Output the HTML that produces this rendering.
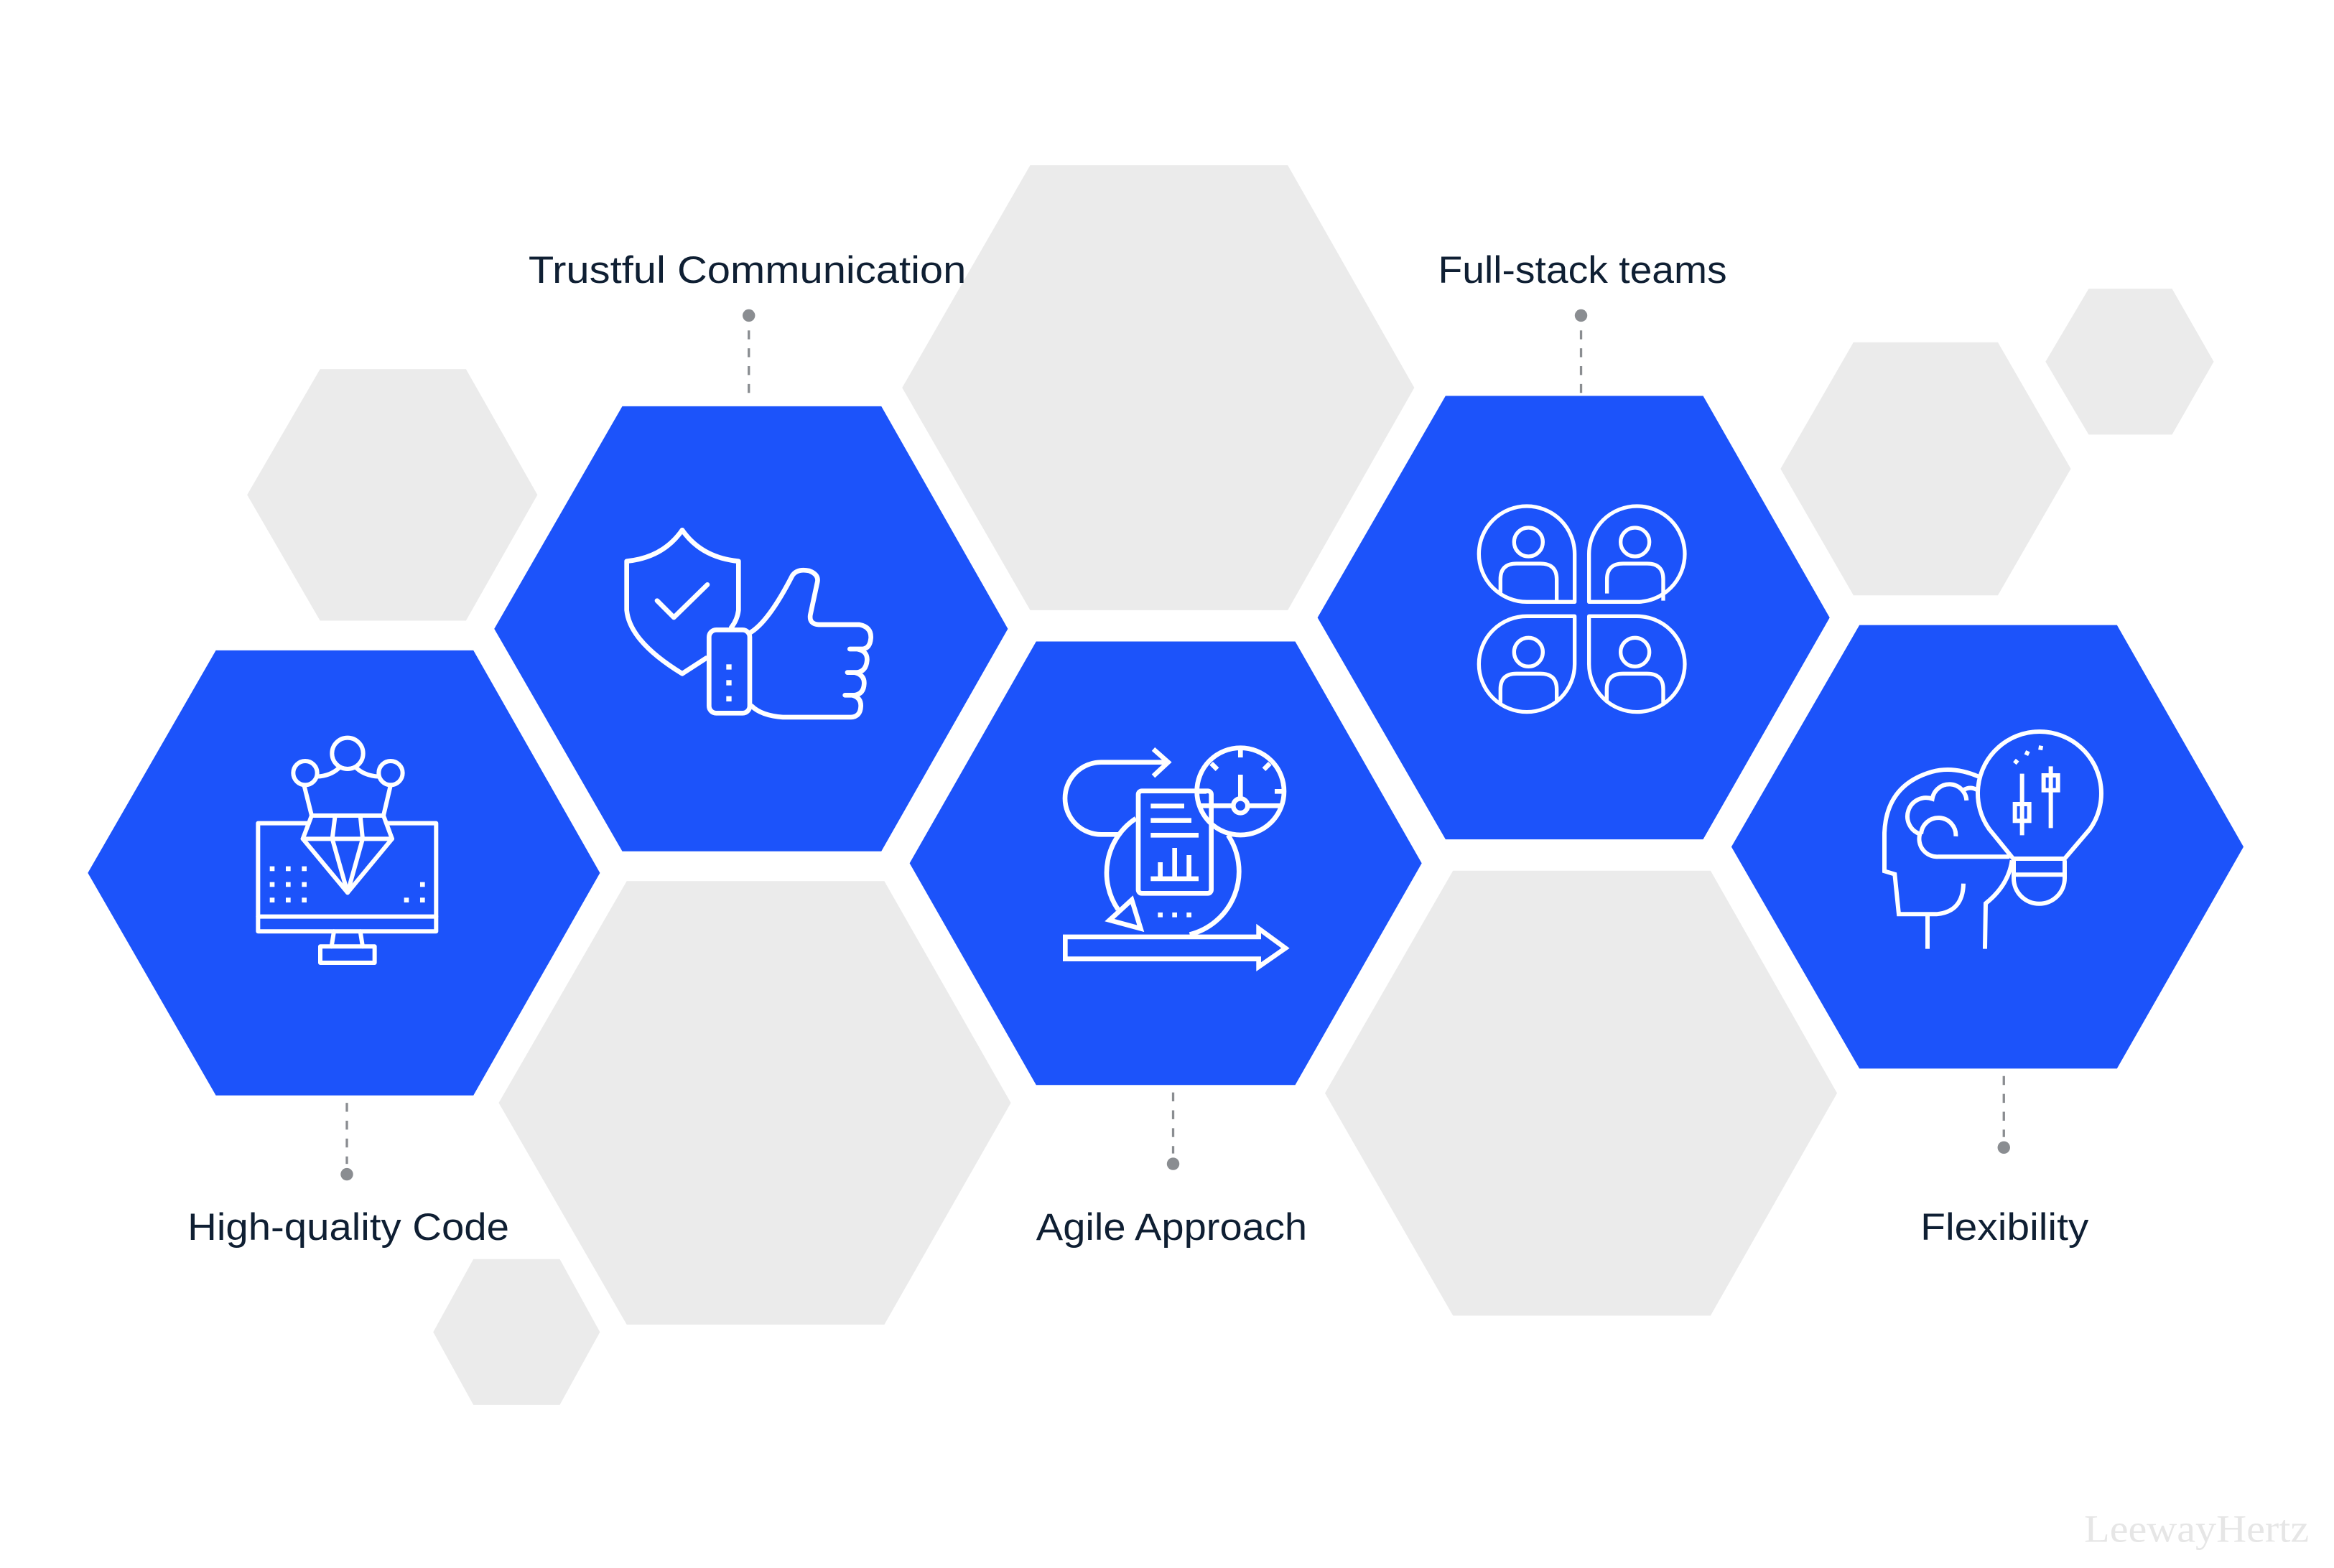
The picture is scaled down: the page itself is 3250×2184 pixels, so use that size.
<!DOCTYPE html>
<html><head><meta charset="utf-8"><style>
html,body{margin:0;padding:0;background:#fff;}
svg{display:block;}
</style></head><body>
<svg width="3250" height="2184" viewBox="0 0 3250 2184" xmlns="http://www.w3.org/2000/svg">
<rect width="3250" height="2184" fill="#fff"/>
<g transform="scale(2.073)">
  <g fill="#ebebeb">
    <polygon points="166,332.5 215,248 313,248 361,332.5 313,417 215,417"/>
    <polygon points="606,260.5 692,111 865,111 950,260.5 865,410 692,410"/>
    <polygon points="335,741 421,592 594,592 679,741 594,890 421,890"/>
    <polygon points="291,895 318,846 376,846 403,895 376,944 318,944"/>
    <polygon points="890,734.5 976,585 1149,585 1234,734.5 1149,884 976,884"/>
    <polygon points="1196,315 1245,230 1342,230 1391,315 1342,400 1245,400"/>
    <polygon points="1374,243 1403,194 1459,194 1487,243 1459,292 1403,292"/>
  </g>
  <g fill="#1c53fa">
    <polygon points="59,586.5 145,437 318,437 403,586.5 318,736 145,736"/>
    <polygon points="332,422.5 418,273 592,273 677,422.5 592,572 418,572"/>
    <polygon points="611,580 696,431 870,431 955,580 870,729 696,729"/>
    <polygon points="885,415 971,266 1144,266 1229,415 1144,564 971,564"/>
    <polygon points="1163,569 1249,420 1422,420 1507,569 1422,718 1249,718"/>
  </g>
  <g stroke="#8a8d91" stroke-width="1.6" stroke-dasharray="6,6" fill="none">
    <line x1="503" y1="222" x2="503" y2="270"/>
    <line x1="1062" y1="222" x2="1062" y2="264"/>
    <line x1="233" y1="741" x2="233" y2="782"/>
    <line x1="788" y1="734" x2="788" y2="775"/>
    <line x1="1346" y1="723" x2="1346" y2="764"/>
  </g>
  <g fill="#8a8d91">
    <circle cx="503" cy="212" r="4.2"/>
    <circle cx="1062" cy="212" r="4.2"/>
    <circle cx="233" cy="789" r="4.2"/>
    <circle cx="788" cy="782" r="4.2"/>
    <circle cx="1346" cy="771" r="4.2"/>
  </g>
  <g font-family="Liberation Sans, sans-serif" font-size="25.5" fill="#0f1f33">
    <text x="355" y="190" textLength="294" lengthAdjust="spacingAndGlyphs">Trustful Communication</text>
    <text x="966" y="190" textLength="194" lengthAdjust="spacingAndGlyphs">Full-stack teams</text>
    <text x="126" y="833" textLength="216" lengthAdjust="spacingAndGlyphs">High-quality Code</text>
    <text x="696" y="833" textLength="182" lengthAdjust="spacingAndGlyphs">Agile Approach</text>
    <text x="1290" y="833" textLength="113" lengthAdjust="spacingAndGlyphs">Flexibility</text>
  </g>
  <text x="1400" y="1036" font-family="Liberation Serif, serif" font-size="26" fill="#e6e6e6" textLength="151" lengthAdjust="spacingAndGlyphs">LeewayHertz</text>
</g>

<g transform="translate(340,1010) scale(0.3333)" fill="none" stroke="#fff" stroke-width="18" stroke-linejoin="round" stroke-linecap="round">
  <path d="M270,410 L58,410 L58,862 L802,862 L802,410 L598,410"/>
  <line x1="58" y1="800" x2="802" y2="800"/>
  <path d="M375,862 L365,925 M485,862 L495,925"/>
  <rect x="318" y="925" width="227" height="68"/>
  <path d="M282,378 L582,378 L618,475 L432,700 L245,475 Z"/>
  <line x1="245" y1="475" x2="618" y2="475"/>
  <path d="M380,378 L368,475 L432,700 L495,475 L485,378"/>
  <circle cx="255" cy="200" r="50"/>
  <circle cx="432" cy="118" r="65"/>
  <circle cx="612" cy="200" r="50"/>
  <path d="M305,215 Q360,212 395,180 M470,180 Q505,212 562,215"/>
  <path d="M250,250 L282,378 M612,250 L582,378"/>
  <g fill="#fff" stroke="none">
    <rect x="107" y="590" width="20" height="20"/><rect x="174" y="590" width="20" height="20"/><rect x="241" y="590" width="20" height="20"/>
    <rect x="107" y="656" width="20" height="20"/><rect x="174" y="656" width="20" height="20"/><rect x="241" y="656" width="20" height="20"/>
    <rect x="107" y="721" width="20" height="20"/><rect x="174" y="721" width="20" height="20"/><rect x="241" y="721" width="20" height="20"/>
    <rect x="735" y="656" width="20" height="20"/><rect x="668" y="721" width="20" height="20"/><rect x="735" y="721" width="20" height="20"/>
  </g>
</g>

<g transform="translate(850,720) scale(0.3333)" fill="none" stroke="#fff" stroke-width="20" stroke-linejoin="round" stroke-linecap="round">
  <path d="M300,55 Q380,170 535,185 L535,390 Q530,430 505,462"/>
  <path d="M300,55 Q220,170 68,185 L68,390 Q80,520 300,655 L400,590"/>
  <path d="M195,350 L265,420 L405,283"/>
  <rect x="412" y="472" width="170" height="348" rx="30"/>
  <path d="M582,485 Q660,440 760,245 Q780,215 830,225 Q870,240 865,270 L835,410 Q830,448 870,450 L1040,450 Q1090,460 1088,505 Q1085,548 1055,552 L1000,552 M1030,552 Q1075,560 1072,600 Q1068,645 1030,650 L990,650 M1020,650 Q1062,660 1060,697 Q1058,740 1020,745 L980,745 M1010,745 Q1048,755 1046,792 Q1044,835 1005,837 L720,837 Q630,830 590,790"/>
  <g fill="#fff" stroke="none">
    <rect x="484" y="616" width="22" height="22"/><rect x="484" y="682" width="22" height="22"/><rect x="484" y="749" width="22" height="22"/>
  </g>
</g>

<g transform="translate(1450,1000) scale(0.3333)" fill="none" stroke="#fff" stroke-width="20" stroke-linejoin="miter">
  <path d="M320,487 L250,487 A151,151 0 0 1 250,185 L530,185"/>
  <path d="M468,130 L530,185 L468,243"/>
  <rect x="405" y="305" width="305" height="428" rx="15"/>
  <path d="M457,368 L597,368 M457,428 L627,428 M457,490 L657,490 M457,672 L657,672 M497,672 L497,603 M557,672 L557,543 M617,672 L617,573"/>
  <circle cx="832" cy="307" r="182"/>
  <path d="M832,125 L832,165 M650,307 L690,307 M975,307 L1015,307 M710,190 L735,215 M955,190 L930,215 M832,237 L832,337 M660,367 L802,367 M862,367 L1000,367"/>
  <circle cx="832" cy="367" r="30"/>
  <path d="M395,420 A272,272 0 0 0 320,800"/>
  <path d="M780,490 A272,272 0 0 1 620,905"/>
  <polygon points="285,845 378,760 415,880"/>
  <polygon points="100,915 908,915 908,880 1020,962 908,1040 908,1007 100,1007"/>
  <g fill="#fff" stroke="none">
    <rect x="487" y="813" width="20" height="20"/><rect x="547" y="813" width="20" height="20"/><rect x="607" y="813" width="20" height="20"/>
  </g>
</g>

<g transform="translate(2040,690) scale(0.3333)" fill="none" stroke="#fff" stroke-width="16" stroke-linejoin="round">
  <path d="M458,445 L258,445 A200,200 0 1 1 458,245 Z"/>
  <circle cx="265" cy="195" r="60"/>
  <path d="M148,410 L148,350 Q148,285 215,285 L315,285 Q383,285 383,350 L383,440"/>
  <g transform="translate(976,0) scale(-1,1)">
    <path d="M458,445 L258,445 A200,200 0 1 1 458,245 Z"/>
    <circle cx="266" cy="195" r="60"/>
    <path d="M148,440 L148,350 Q148,285 215,285 L315,285 Q383,285 383,350 L383,410"/>
  </g>
  <g transform="translate(0,950) scale(1,-1)">
    <path d="M458,445 L258,445 A200,200 0 1 1 458,245 Z"/>
  </g>
  <g transform="translate(976,950) scale(-1,-1)">
    <path d="M458,445 L258,445 A200,200 0 1 1 458,245 Z"/>
  </g>
  <circle cx="265" cy="655" r="60"/>
  <path d="M148,870 L148,810 Q148,745 215,745 L315,745 Q383,745 383,810 L383,865"/>
  <circle cx="710" cy="655" r="60"/>
  <path d="M592,865 L592,810 Q592,745 660,745 L760,745 Q828,745 828,810 L828,870"/>
</g>

<g transform="translate(2600,980) scale(0.3333)" fill="none" stroke="#fff" stroke-width="18" stroke-linejoin="miter">
  <path d="M610,648 L510,525 A258,258 0 1 1 930,525 L825,648 Z"/>
  <path d="M612,655 L612,730 A106,106 0 0 0 825,730 L825,655 M612,715 L825,715"/>
  <path d="M647,293 L647,550 M767,262 L767,520"/>
  <rect x="617" y="420" width="60" height="70"/>
  <rect x="737" y="300" width="60" height="62"/>
  <path d="M465,305 Q360,260 270,285 Q80,340 72,540 L72,700 L115,713 L132,880 L290,880 Q400,870 402,752"/>
  <path d="M252,880 L252,1025"/>
  <path d="M605,655 Q590,760 495,835 L492,1025"/>
  <path d="M415,405 A72,72 0 0 0 272,398 A75,75 0 0 0 220,545 A75,75 0 0 0 295,640 L595,640"/>
  <path d="M370,555 A72,72 0 0 0 225,545"/>
  <path d="M405,360 Q430,345 458,360"/>
  <g fill="#fff" stroke="none">
    <rect x="613" y="234" width="18" height="18" transform="rotate(40 622 243)"/>
    <rect x="659" y="198" width="18" height="18" transform="rotate(25 668 207)"/>
    <rect x="716" y="176" width="18" height="18" transform="rotate(10 725 185)"/>
  </g>
</g>
</svg>
</body></html>
